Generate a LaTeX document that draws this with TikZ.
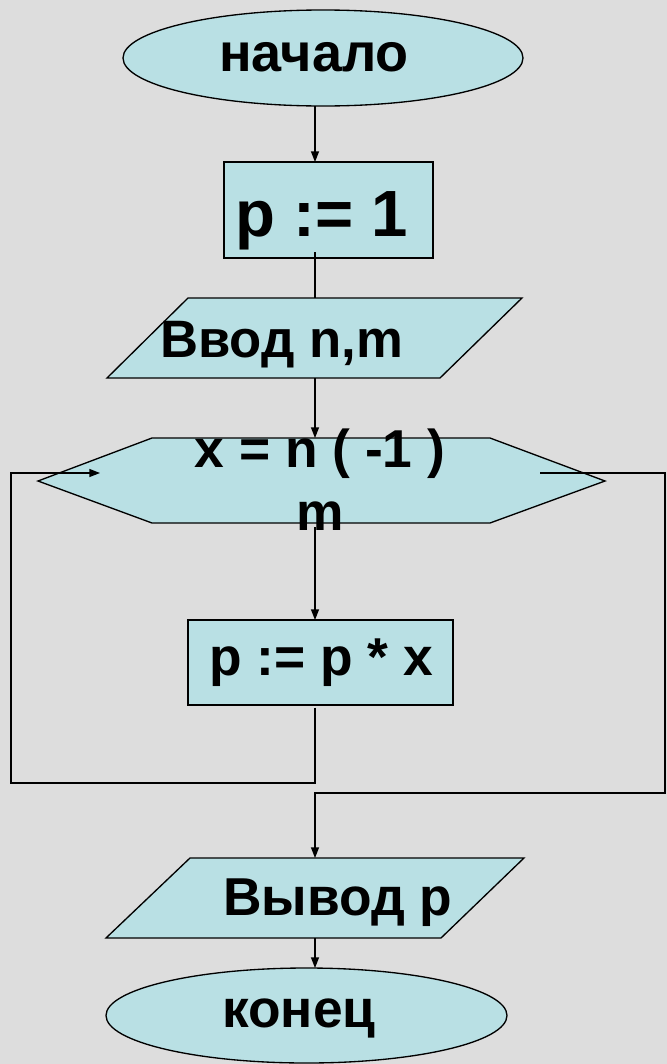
\documentclass[tikz,border=0pt]{standalone}
\usepackage{fontspec}
\setmainfont{Liberation Sans}
\usetikzlibrary{arrows.meta,shapes.geometric}
\definecolor{bgc}{HTML}{DDDDDD}
\definecolor{fillb}{HTML}{B9E0E4}
\begin{document}
\begin{tikzpicture}[x=0.75pt,y=-0.75pt,
  shp/.style={draw=black, fill=fillb, line width=1pt, inner sep=0pt, outer sep=0pt},
  conn/.style={draw=black, line width=1pt},
  arr/.style={conn, -{Triangle[length=8pt,width=6pt]}},
  lbl/.style={font=\bfseries, inner sep=0pt, anchor=base, text=black}]
\fill[bgc] (0,0) rectangle (667,1064);
\useasboundingbox (0,0) rectangle (667,1064);
\coordinate (col) at (315,0);
% shapes
\node[shp, ellipse, minimum width=300pt, minimum height=72pt] (start) at (323,58) {};
\node[shp, rectangle, minimum width=156.75pt, minimum height=72pt] (r1) at (328.5,210) {};
\coordinate (inTL) at (188,298); \coordinate (inTR) at (522,298);
\coordinate (inBR) at (440,378); \coordinate (inBL) at (107,378);
\path[shp] (inTL) -- (inTR) -- (inBR) -- (inBL) -- cycle;
\coordinate (inTop) at (315,298); \coordinate (inBot) at (315,378);
\coordinate (hL) at (38,481); \coordinate (hTL) at (152,438); \coordinate (hTR) at (490,438);
\coordinate (hR) at (605,481); \coordinate (hBR) at (490,523); \coordinate (hBL) at (152,523);
\path[shp] (hL) -- (hTL) -- (hTR) -- (hR) -- (hBR) -- (hBL) -- cycle;
\coordinate (hTop) at (315,438); \coordinate (hBot) at (315,527);
\node[shp, rectangle, minimum width=198.75pt, minimum height=63.75pt] (r2) at (320.5,662.5) {};
\coordinate (oTL) at (190,858); \coordinate (oTR) at (524,858);
\coordinate (oBR) at (441,938); \coordinate (oBL) at (106,938);
\path[shp] (oTL) -- (oTR) -- (oBR) -- (oBL) -- cycle;
\coordinate (oTop) at (315,858); \coordinate (oBot) at (315,938);
\node[shp, ellipse, minimum width=300.75pt, minimum height=71.25pt] (stop) at (306.5,1015.5) {};
% texts
\node[lbl] (t1) at (314,71) {\fontsize{40.5}{44}\selectfont начало};
\node[lbl] (t2) at (322,236) {\fontsize{49}{52}\selectfont p := 1};
\node[lbl, anchor=base west] (t3) at (160,357) {\fontsize{39.5}{44}\selectfont Ввод n,m};
\node[lbl] (t4) at (320,467) {\fontsize{40}{44}\selectfont x = n ( -1 )};
\node[lbl] (t5) at (320,530) {\fontsize{40}{44}\selectfont m};
\node[lbl] (t6) at (321,675) {\fontsize{40}{44}\selectfont p := p * x};
\node[lbl, anchor=base west] (t7) at (223,915) {\fontsize{40}{44}\selectfont Вывод p};
\node[lbl] (t8) at (299,1027) {\fontsize{40}{44}\selectfont конец};
% connectors
\draw[arr] (start.south -| col) -- (r1.north -| col);
\draw[conn] ([yshift=4.5pt]r1.south -| col) -- (inTop);
\draw[arr] (inBot) -- (hTop);
\draw[arr] (hBot) -- (r2.north -| col);
\coordinate (lpA) at (315,783); \coordinate (lpB) at (11,783);
\coordinate (lpC) at (11,473); \coordinate (lpD) at (100,473);
\draw[arr] ([yshift=-2pt]r2.south -| col) -- (lpA) -- (lpB) -- (lpC) -- (lpD);
\coordinate (exA) at (540,473); \coordinate (exB) at (665,473);
\coordinate (exC) at (665,793); \coordinate (exD) at (315,793);
\draw[arr] (exA) -- (exB) -- (exC) -- (exD) -- (oTop);
\draw[arr] (oBot) -- (stop.north -| col);
\end{tikzpicture}
\end{document}
